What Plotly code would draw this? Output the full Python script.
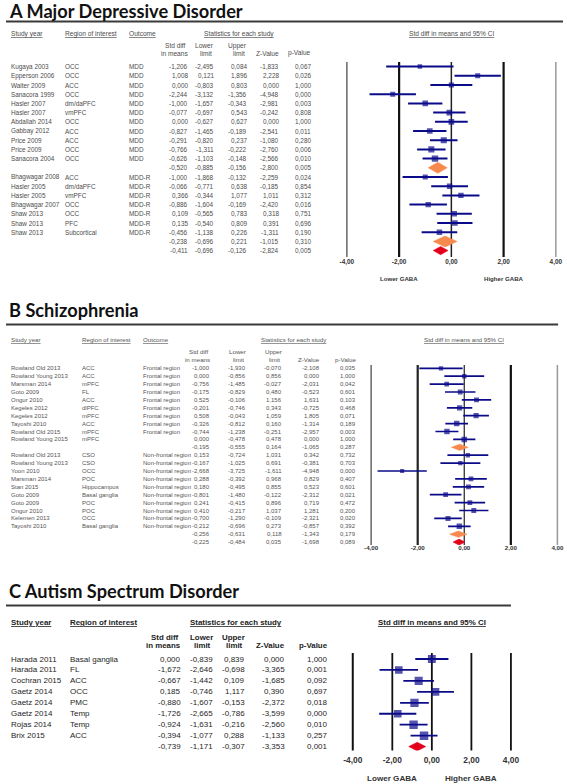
import plotly.graph_objects as go

# ---------------- Panel A: Major Depressive Disorder ----------------
studyA = ["Kugaya 2003", "Epperson 2006", "Walter 2009", "Sanacora 1999", "Hasler 2007", "Hasler 2007",
          "Abdallah 2014", "Gabbay 2012", "Price 2009", "Price 2009", "Sanacora 2004", "",
          "Bhagwagar 2008", "Hasler 2005", "Hasler 2005", "Bhagwagar 2007", "Shaw 2013", "Shaw 2013",
          "Shaw 2013", "", ""]
regionA = ["OCC", "OCC", "ACC", "OCC", "dm/daPFC", "vmPFC", "OCC", "ACC", "ACC", "OCC", "OCC", "",
           "ACC", "dm/daPFC", "vmPFC", "OCC", "OCC", "PFC", "Subcortical", "", ""]
outcomeA = ["MDD", "MDD", "MDD", "MDD", "MDD", "MDD", "MDD", "MDD", "MDD", "MDD", "MDD", "",
            "MDD-R", "MDD-R", "MDD-R", "MDD-R", "MDD-R", "MDD-R", "MDD-R", "", ""]
estA = [-1.206, 1.008, 0.000, -2.244, -1.000, -0.077, 0.000, -0.827, -0.291, -0.766, -0.626, -0.520,
        -1.000, -0.066, 0.366, -0.886, 0.109, 0.135, -0.456, -0.238, -0.411]
lowA = [-2.495, 0.121, -0.803, -3.132, -1.657, -0.697, -0.627, -1.465, -0.820, -1.311, -1.103, -0.885,
        -1.868, -0.771, -0.344, -1.604, -0.565, -0.540, -1.138, -0.696, -0.696]
upA = [0.084, 1.896, 0.803, -1.356, -0.343, 0.543, 0.627, -0.189, 0.237, -0.222, -0.148, -0.156,
       -0.132, 0.638, 1.077, -0.169, 0.783, 0.809, 0.226, 0.221, -0.126]
zA = [-1.833, 2.228, 0.000, -4.948, -2.981, -0.242, 0.000, -2.541, -1.080, -2.760, -2.566, -2.800,
      -2.259, -0.185, 1.011, -2.420, 0.318, 0.391, -1.311, -1.015, -2.824]
pA = [0.067, 0.026, 1.000, 0.000, 0.003, 0.808, 1.000, 0.011, 0.280, 0.006, 0.010, 0.005,
      0.024, 0.854, 0.312, 0.016, 0.751, 0.696, 0.190, 0.310, 0.005]
kindA = ["s"] * 11 + ["sub"] + ["s"] * 7 + ["sub", "all"]

# ---------------- Panel B: Schizophrenia ----------------
studyB = ["Rowland Old 2013", "Rowland Young 2013", "Marsman 2014", "Goto 2009", "Ongur 2010",
          "Kegeles 2012", "Kegeles 2012", "Tayoshi 2010", "Rowland Old 2015", "Rowland Young 2015", "",
          "Rowland Old 2013", "Rowland Young 2013", "Yoon 2010", "Marsman 2014", "Stan 2015",
          "Goto 2009", "Goto 2009", "Ongur 2010", "Kelemen 2013", "Tayoshi 2010", "", ""]
regionB = ["ACC", "ACC", "mPFC", "FL", "ACC", "dlPFC", "mPFC", "ACC", "mPFC", "mPFC", "",
           "CSO", "CSO", "OCC", "POC", "Hippocampus", "Basal ganglia", "POC", "POC", "OCC",
           "Basal ganglia", "", ""]
outcomeB = ["Frontal region"] * 9 + ["", ""] + ["Non-frontal region"] * 10 + ["", ""]
estB = [-1.000, 0.000, -0.756, -0.175, 0.525, -0.201, 0.508, -0.326, -0.744, 0.000, -0.195,
        0.153, -0.167, -2.668, 0.288, 0.180, -0.801, 0.241, 0.410, -0.700, -0.212, -0.256, -0.225]
lowB = [-1.930, -0.856, -1.485, -0.829, -0.106, -0.746, -0.043, -0.812, -1.238, -0.478, -0.555,
        -0.724, -1.025, -3.725, -0.392, -0.495, -1.480, -0.415, -0.217, -1.290, -0.696, -0.631, -0.484]
upB = [-0.070, 0.856, -0.027, 0.480, 1.156, 0.343, 1.059, 0.160, -0.251, 0.478, 0.164,
       1.031, 0.691, -1.611, 0.968, 0.855, -0.122, 0.896, 1.037, -0.109, 0.273, 0.118, 0.035]
zB = [-2.108, 0.000, -2.031, -0.523, 1.631, -0.725, 1.805, -1.314, -2.957, 0.000, -1.065,
      0.342, -0.381, -4.948, 0.829, 0.523, -2.312, 0.719, 1.281, -2.321, -0.857, -1.343, -1.698]
pB = [0.035, 1.000, 0.042, 0.601, 0.103, 0.468, 0.071, 0.189, 0.003, 1.000, 0.287,
      0.732, 0.703, 0.000, 0.407, 0.601, 0.021, 0.472, 0.200, 0.020, 0.392, 0.179, 0.089]
kindB = ["s"] * 10 + ["sub"] + ["s"] * 10 + ["sub", "all"]

# ---------------- Panel C: Autism Spectrum Disorder ----------------
studyC = ["Harada 2011", "Harada 2011", "Cochran 2015", "Gaetz 2014", "Gaetz 2014", "Gaetz 2014",
          "Rojas 2014", "Brix 2015", ""]
regionC = ["Basal ganglia", "FL", "ACC", "OCC", "PMC", "Temp", "Temp", "ACC", ""]
estC = [0.000, -1.672, -0.667, 0.185, -0.880, -1.726, -0.924, -0.394, -0.739]
lowC = [-0.839, -2.646, -1.442, -0.746, -1.607, -2.665, -1.631, -1.077, -1.171]
upC = [0.839, -0.698, 0.109, 1.117, -0.153, -0.786, -0.216, 0.288, -0.307]
zC = [0.000, -3.365, -1.685, 0.390, -2.372, -3.599, -2.560, -1.133, -3.353]
pC = [1.000, 0.001, 0.092, 0.697, 0.018, 0.000, 0.010, 0.257, 0.001]
kindC = ["s"] * 8 + ["all"]

tick_vals = [-4, -2, 0, 2, 4]
tick_text = ["-4,00", "-2,00", "0,00", "2,00", "4,00"]

# ---------------- layout helpers ----------------
W, H = 567, 784
NAVY = "#0b0b8a"
ORANGE = "#f68a4e"
RED = "#e3001b"


def fx(px):
    return px / W


def fy(py):
    return 1 - py / H


def fmt(v):
    return f"{v:.3f}".replace(".", ",")


fig = go.Figure()
annotations = []
shapes = []

panels = [
    dict(title="A Major Depressive Disorder", study=studyA, region=regionA, outcome=outcomeA,
         est=estA, lo=lowA, hi=upA, z=zA, p=pA, kind=kindA,
         title_y=11.5, rule_y=21.5, rule_x1=567, head_y=33.5, sub1_y=45.8, sub2_y=53.3,
         y0=66.6, dy=9.2, top=62, bottom=257, xm4=347, xp4=559.7,
         c_study=3, c_region=58, c_outcome=123.5, c_est=187.5, c_lo=214, c_hi=247.5, c_z=279.5, c_p=312.5,
         stats_c=237, fs=6.4, hfs=6.6, col="#4d4d4d", hb=False, tick_fs=6.4, standoff=0, gaba_y=278.5,
         msize=(3.4, 2.9), lw=2, dia=(0.6, 0.45),
         vcol=["#666", "#111", "#222", "#111", "#999"], vw=[1.5, 2.2, 1.5, 2.2, 1.5]),
    dict(title="B Schizophrenia", study=studyB, region=regionB, outcome=outcomeB,
         est=estB, lo=lowB, hi=upB, z=zB, p=pB, kind=kindB,
         title_y=310, rule_y=324.5, rule_x1=562, head_y=339, sub1_y=351.5, sub2_y=359,
         y0=368.3, dy=7.9, top=365, bottom=545, xm4=371.7, xp4=561.3,
         c_study=3, c_region=75, c_outcome=137, c_est=210, c_lo=246.5, c_hi=282.5, c_z=321.5, c_p=358.5,
         stats_c=293, fs=6.0, hfs=6.2, col="#555555", hb=False, tick_fs=6.2, standoff=-2, gaba_y=None,
         msize=(3.0, 2.4), lw=1.7, dia=(0.4, 0.38),
         vcol=["#666", "#222", "#333", "#111", "#999"], vw=[1.5, 2.2, 1.3, 2.2, 1.5]),
    dict(title="C Autism Spectrum Disorder", study=studyC, region=regionC, outcome=None,
         est=estC, lo=lowC, hi=upC, z=zC, p=pC, kind=kindC,
         title_y=591, rule_y=605.5, rule_x1=514, head_y=622, sub1_y=637, sub2_y=645.5,
         y0=659, dy=10.95, top=653, bottom=750.5, xm4=353, xp4=514,
         c_study=3, c_region=63, c_outcome=None, c_est=180.5, c_lo=213, c_hi=245.5, c_z=286.5, c_p=330,
         stats_c=234.5, fs=8.0, hfs=7.9, col="#262626", hb=True, tick_fs=8.4, standoff=3, gaba_y=778,
         msize=(5.4, 4.2), lw=1.8, dia=(0.0, 0.4),
         vcol=["#111", "#111", "#111", "#111", "#111"], vw=[2, 1.8, 1.8, 1.8, 1.8]),
]

TEXT_FONT = "Liberation Sans, Arial, sans-serif"

for k, P in enumerate(panels, start=1):
    xa = "x" if k == 1 else f"x{k}"
    ya = "y" if k == 1 else f"y{k}"
    xname = "xaxis" if k == 1 else f"xaxis{k}"
    yname = "yaxis" if k == 1 else f"yaxis{k}"

    # x axis: value -4 at xm4 px, +4 at xp4 px; pad a little to avoid clipping
    s = (P["xp4"] - P["xm4"]) / 8.0
    pad = 0.2
    dl = P["xm4"] - pad * s
    dr = P["xp4"] + pad * s
    # y axis: row i at y0 + i*dy px
    r_bot = (P["bottom"] - P["y0"]) / P["dy"]
    r_top = (P["top"] - P["y0"]) / P["dy"]
    fig.update_layout(**{
        xname: dict(domain=[fx(dl), min(1.0, fx(dr))], range=[-4 - pad, 4 + pad], anchor=ya,
                    tickvals=tick_vals, ticktext=tick_text, showgrid=False, zeroline=False,
                    showline=False, ticks="", ticklabelstandoff=P["standoff"],
                    tickfont=dict(family=TEXT_FONT, size=P["tick_fs"], color="#333",
                                  weight="bold"),
                    fixedrange=True),
        yname: dict(domain=[fy(P["bottom"]), fy(P["top"])], range=[r_bot, r_top], anchor=xa,
                    showticklabels=False, showgrid=False, zeroline=False, showline=False,
                    fixedrange=True),
    })

    # vertical reference lines
    for v, c, w in zip(tick_vals, P["vcol"], P["vw"]):
        shapes.append(dict(type="line", xref=xa, yref=f"{ya} domain", x0=v, x1=v, y0=0, y1=1,
                           line=dict(color=c, width=w), layer="below"))

    rows = list(range(len(P["est"])))
    si = [i for i in rows if P["kind"][i] == "s"]

    # CI whiskers
    xs, ys = [], []
    for i in si:
        xs += [P["lo"][i], P["hi"][i], None]
        ys += [i, i, None]
    fig.add_trace(go.Scatter(x=xs, y=ys, xaxis=xa, yaxis=ya, mode="lines",
                             line=dict(color=NAVY, width=P["lw"]), hoverinfo="skip",
                             showlegend=False))
    # study squares (size from CI width, i.e. precision)
    a, b = P["msize"]
    fig.add_trace(go.Scatter(x=[P["est"][i] for i in si], y=si, xaxis=xa, yaxis=ya, mode="markers",
                             marker=dict(symbol="square", color=NAVY,
                                         size=[a + b / (P["hi"][i] - P["lo"][i]) for i in si],
                                         line=dict(width=0)),
                             showlegend=False))
    # summary diamonds
    for i in rows:
        kd = P["kind"][i]
        if kd == "s":
            continue
        h = P["dia"][0] if kd == "sub" else P["dia"][1]
        col = ORANGE if kd == "sub" else RED
        fig.add_trace(go.Scatter(
            x=[P["lo"][i], P["est"][i], P["hi"][i], P["est"][i], P["lo"][i]],
            y=[i, i - h, i, i + h, i], xaxis=xa, yaxis=ya, mode="lines", fill="toself",
            fillcolor=col, line=dict(color=col, width=0.5), showlegend=False, hoverinfo="skip"))

    # ---- title and rule
    annotations.append(dict(text="<b>" + P["title"] + "</b>", xref="paper", yref="paper",
                            x=fx(1), y=fy(P["title_y"]), xanchor="left", yanchor="middle",
                            showarrow=False, font=dict(family="Lato, Open Sans, sans-serif",
                                                       size=18.2, color="#111")))
    shapes.append(dict(type="line", xref="paper", yref="paper", x0=0, x1=fx(P["rule_x1"]),
                       y0=fy(P["rule_y"]), y1=fy(P["rule_y"]), line=dict(color="#3a3a3a", width=2)))

    hfs = P["hfs"]
    hfont = dict(family=TEXT_FONT, size=hfs, color=P["col"])
    if P["hb"]:
        hfont = dict(family=TEXT_FONT, size=hfs, color="#222", weight="bold")

    def ann_p(text, xpx, ypx, anchor, font=hfont):
        annotations.append(dict(text=text, xref="paper", yref="paper", x=fx(xpx), y=fy(ypx),
                                xanchor=anchor, yanchor="middle", showarrow=False, font=font))

    # ---- column headers
    ann_p("<u>Study year</u>", P["c_study"], P["head_y"], "left")
    ann_p("<u>Region of interest</u>", P["c_region"], P["head_y"], "left")
    if P["c_outcome"] is not None:
        ann_p("<u>Outcome</u>", P["c_outcome"], P["head_y"], "left")
    ann_p("<u>Statistics for each study</u>", P["stats_c"], P["head_y"], "center")
    ann_p("Std diff", P["c_est"] - 2.5, P["sub1_y"], "right")
    ann_p("in means", P["c_est"], P["sub2_y"], "right")
    ann_p("Lower", P["c_lo"], P["sub1_y"], "right")
    ann_p("limit", P["c_lo"] - 2, P["sub2_y"], "right")
    ann_p("Upper", P["c_hi"], P["sub1_y"], "right")
    ann_p("limit", P["c_hi"] - 2, P["sub2_y"], "right")
    ann_p("Z-Value", P["c_z"], P["sub2_y"], "right")
    ann_p("p-Value", P["c_p"], P["sub2_y"], "right")

    # forest header and GABA labels (x from the data axis)
    annotations.append(dict(text="<u>Std diff in means and 95% CI</u>", xref=xa, yref="paper",
                            x=0, y=fy(P["head_y"]), xanchor="center", yanchor="middle",
                            showarrow=False, font=hfont))
    if P["gaba_y"] is not None:
        gfont = dict(family=TEXT_FONT, size=P["tick_fs"] - 0.3, color="#333", weight="bold")
        for v, t in [(-2, "Lower GABA"), (2, "Higher GABA")]:
            annotations.append(dict(text=t, xref=xa, yref="paper", x=v, y=fy(P["gaba_y"]),
                                    xanchor="center", yanchor="middle", showarrow=False, font=gfont))

    # ---- table body (rows through the panel's y axis)
    bfont = dict(family=TEXT_FONT, size=P["fs"], color=P["col"])

    def ann_r(text, xpx, row, anchor):
        if text == "":
            return
        annotations.append(dict(text=text, xref="paper", yref=ya, x=fx(xpx), y=row,
                                xanchor=anchor, yanchor="middle", showarrow=False, font=bfont))

    for i in rows:
        ann_r(P["study"][i], P["c_study"], i, "left")
        ann_r(P["region"][i], P["c_region"], i, "left")
        if P["outcome"] is not None:
            ann_r(P["outcome"][i], P["c_outcome"], i, "left")
        ann_r(fmt(P["est"][i]), P["c_est"], i, "right")
        ann_r(fmt(P["lo"][i]), P["c_lo"], i, "right")
        ann_r(fmt(P["hi"][i]), P["c_hi"], i, "right")
        ann_r(fmt(P["z"][i]), P["c_z"], i, "right")
        ann_r(fmt(P["p"][i]), P["c_p"], i, "right")

fig.update_layout(width=W, height=H, margin=dict(l=0, r=0, t=0, b=0),
                  paper_bgcolor="white", plot_bgcolor="rgba(0,0,0,0)",
                  annotations=annotations, shapes=shapes, showlegend=False)
fig.write_html("out.html", config={"displayModeBar": False},
               post_script="document.body.style.margin='0px';"
                           "document.body.style.overflow='hidden';")
